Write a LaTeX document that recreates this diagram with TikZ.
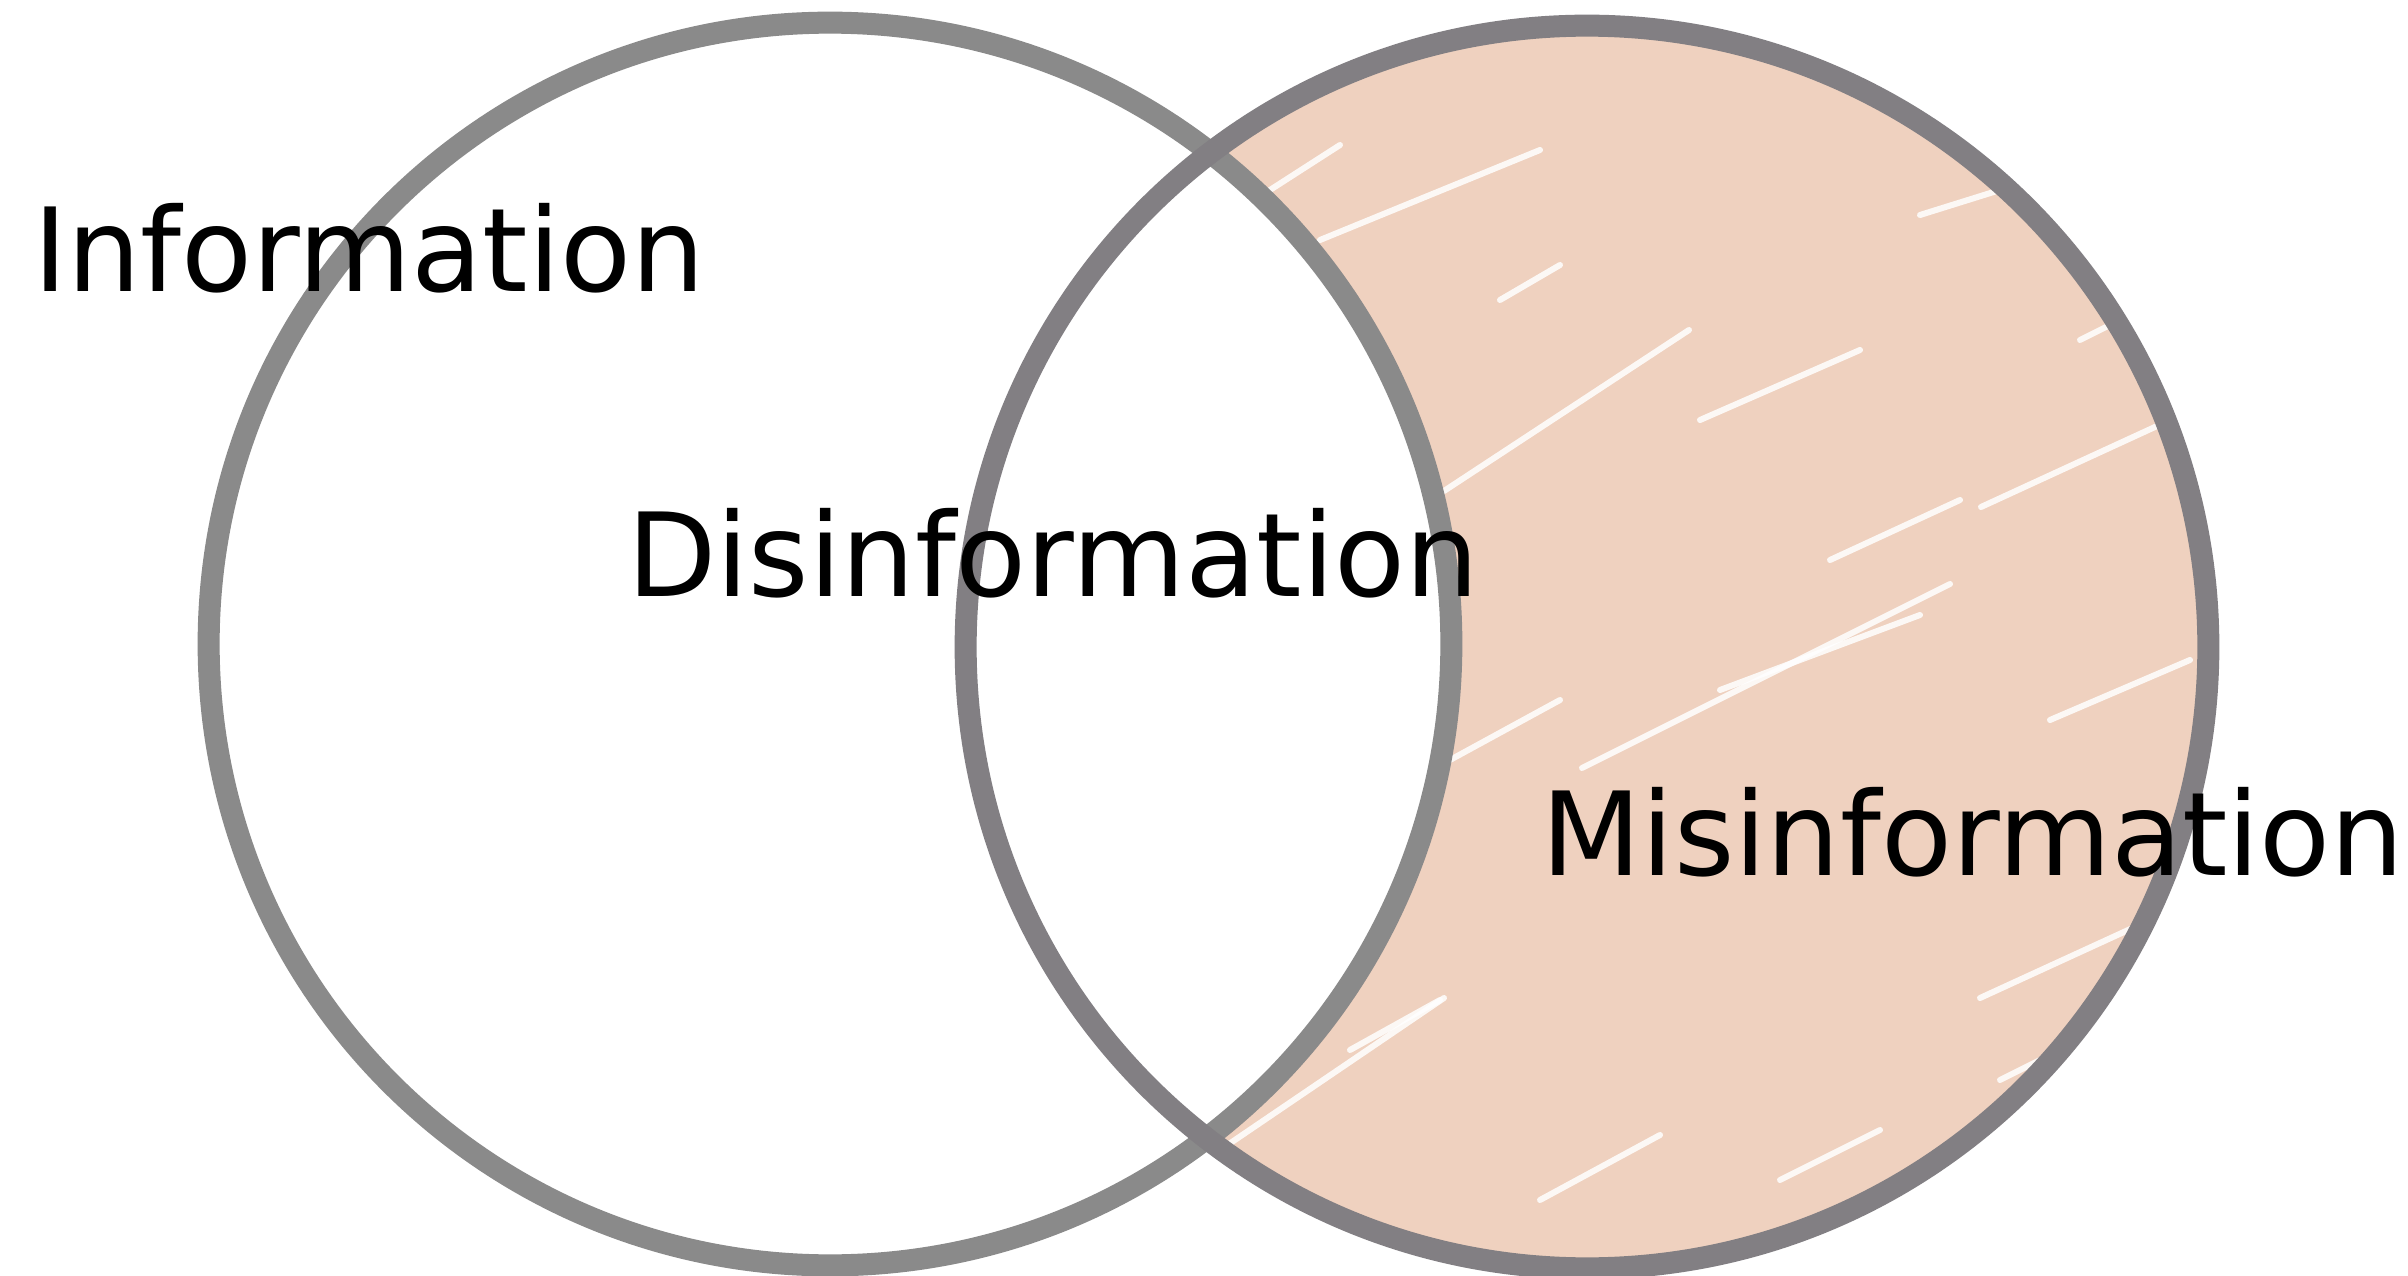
\documentclass[tikz,border=0pt]{standalone}
\usepackage{fontspec}
\setmainfont{DejaVu Sans}
\definecolor{peach}{RGB}{239,209,191}
\definecolor{leftgray}{RGB}{138,138,138}
\definecolor{rightgray}{RGB}{130,127,131}
\begin{document}
\begin{tikzpicture}[x=0.01cm,y=-0.01cm,
  ring/.style={circle, minimum size=12.42cm, inner sep=0, line width=0.22cm, draw=#1},
  label/.style={anchor=base, inner sep=0, font=\fontsize{33}{40}\selectfont},
  streak/.style={white, line width=0.06cm, line cap=round, opacity=0.85}]
\useasboundingbox (0,0) rectangle (2408,1276);
\fill[white] (0,0) rectangle (2408,1276);
% crescent fill
\fill[peach] (1587,647) circle[radius=621];
\begin{scope}
  \clip (1587,647) circle[radius=621];
  \draw[streak] (1270,190) -- (1340,145);
  \draw[streak] (1320,240) -- (1540,150);
  \draw[streak] (1444,491) -- (1689,330);
  \draw[streak] (1582,768) -- (1950,584);
  \draw[streak] (1720,690) -- (1920,615);
  \draw[streak] (1981,507) -- (2181,415);
  \draw[streak] (1920,215) -- (2000,190);
  \draw[streak] (1229,1144) -- (1444,998);
  \draw[streak] (1540,1200) -- (1660,1135);
  \draw[streak] (1980,998) -- (2150,920);
  \draw[streak] (2040,170) -- (2150,110);
  \draw[streak] (1700,420) -- (1860,350);
  \draw[streak] (2050,720) -- (2190,660);
  \draw[streak] (1450,760) -- (1560,700);
  \draw[streak] (2000,1080) -- (2120,1020);
  \draw[streak] (1350,1050) -- (1440,1000);
  \draw[streak] (1830,560) -- (1960,500);
  \draw[streak] (2080,340) -- (2190,285);
  \draw[streak] (1500,300) -- (1560,265);
  \draw[streak] (1780,1180) -- (1880,1130);
\end{scope}
\fill[white] (830,644) circle[radius=621];
% outlines
\node[ring=leftgray] (info) at (830,644) {};
\node[ring=rightgray] (mis) at (1587,647) {};
% labels
\node[label] (tinfo) at (369,292) {Information};
\node[label] (tdis) at (1053,596) {Disinformation};
\node[label] (tmis) at (1973,875) {Misinformation};
\end{tikzpicture}
\end{document}
